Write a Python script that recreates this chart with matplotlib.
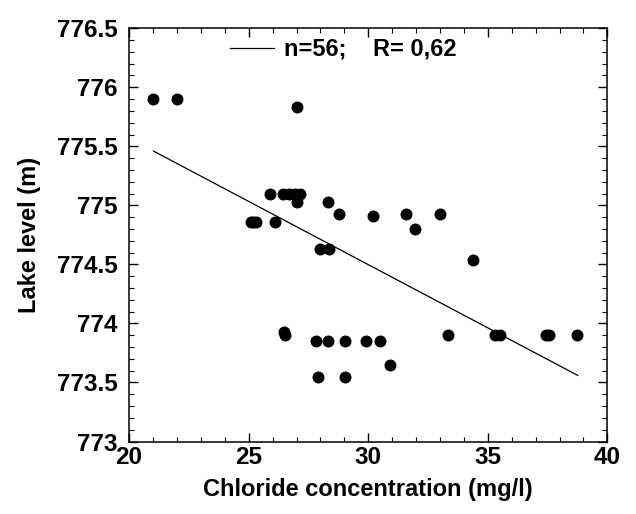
import numpy as np
import matplotlib
matplotlib.use("Agg")
import matplotlib.pyplot as plt
from matplotlib.ticker import MultipleLocator

# chloride (mg/l) and lake level (m)
chloride = [21.02, 22.01, 27.0, 25.9, 26.45, 26.7, 26.95, 27.15, 27.0, 28.32,
            28.78, 30.18, 31.56, 31.97, 33.0, 34.38, 25.08, 25.2, 25.3, 26.1,
            27.99, 28.34, 26.49, 26.52, 27.81, 28.30, 29.02, 29.89, 30.50, 30.91,
            27.91, 29.02, 33.33, 35.30, 35.50, 37.43, 37.57, 38.72]
level = [775.905, 775.905, 775.83, 775.10, 775.10, 775.10, 775.10, 775.10, 775.025, 775.03,
         774.93, 774.91, 774.93, 774.80, 774.93, 774.54, 774.863, 774.863, 774.863, 774.863,
         774.628, 774.628, 773.93, 773.90, 773.85, 773.85, 773.85, 773.85, 773.85, 773.65,
         773.55, 773.55, 773.90, 773.90, 773.90, 773.90, 773.90, 773.90]

# regression line end points
fit_x = [21.02, 38.76]
fit_y = [775.46, 773.56]

plt.rcParams["font.family"] = ["Liberation Sans", "DejaVu Sans"]
plt.rcParams["font.weight"] = "bold"

fig = plt.figure(figsize=(6.36, 5.14), dpi=100)
ax = fig.add_axes([0.203, 0.141, 0.752, 0.804])

ax.plot(chloride, level, "o", color="black", markersize=7.6, linestyle="none")
ax.plot(fit_x, fit_y, color="black", linewidth=0.9, label="n=56;    R= 0,62")

ax.set_xlim(20, 40)
ax.set_ylim(773, 776.5)
ax.xaxis.set_major_locator(MultipleLocator(5))
ax.xaxis.set_minor_locator(MultipleLocator(1))
ax.yaxis.set_major_locator(MultipleLocator(0.5))
ax.yaxis.set_minor_locator(MultipleLocator(0.1))
ax.yaxis.set_major_formatter(plt.FuncFormatter(lambda v, p: f"{v:g}"))

ax.tick_params(which="both", direction="in", top=True, right=True, labelsize=17.5)
ax.tick_params(which="major", length=6.5, width=1)
ax.tick_params(which="minor", length=3.5, width=0.8)
ax.tick_params(axis="x", pad=3)
ax.tick_params(axis="y", pad=8)
for s in ax.spines.values():
    s.set_linewidth(1.1)

ax.set_xlabel("Chloride concentration (mg/l)", fontsize=17, fontweight="bold", labelpad=7)
ax.set_ylabel("Lake level (m)", fontsize=17, fontweight="bold", labelpad=12)

ax.legend(loc="center left", bbox_to_anchor=(0.21, 0.949), frameon=False,
          fontsize=17, handlelength=1.9, handletextpad=0.4,
          borderpad=0, borderaxespad=0)

fig.savefig("out.png", dpi=100)
